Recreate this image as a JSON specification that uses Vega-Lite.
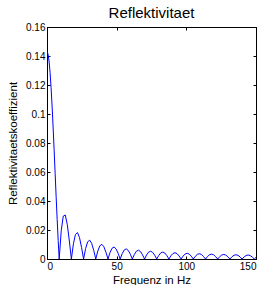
{
  "$schema": "https://vega.github.io/schema/vega-lite/v6.json",
  "autosize": {"type": "none"},
  "padding": {"left": 47, "top": 27, "right": 10, "bottom": 26},
  "width": 209,
  "height": 232,
  "background": "white",
  "config": {
    "view": {"stroke": "black", "strokeWidth": 1},
    "font": "Liberation Sans",
    "axis": {"grid": false, "domainColor": "black", "tickColor": "black", "labelColor": "black", "titleColor": "black", "labelFont": "Liberation Sans", "titleFont": "Liberation Sans", "labelFontSize": 10, "titleFontSize": 11.5, "titleFontWeight": "normal", "tickSize": -3, "labelPadding": 5}
  },
  "title": {"text": "Reflektivitaet", "fontSize": 15, "fontWeight": "normal", "font": "Liberation Sans", "color": "black", "offset": 1},
  "data": {"values": [
    {"f": 0, "r": 0.143}, {"f": 0.729, "r": 0.14137}, {"f": 1.458, "r": 0.13656}, {"f": 2.188, "r": 0.12875}, {"f": 2.917, "r": 0.11826}, {"f": 3.646, "r": 0.10552}, {"f": 4.375, "r": 0.09104}, {"f": 5.104, "r": 0.07537}, {"f": 5.833, "r": 0.05913}, {"f": 6.563, "r": 0.04292}, {"f": 7.292, "r": 0.02731}, {"f": 8.021, "r": 0.01285}, {"f": 8.75, "r": 0},
    {"f": 10.21, "r": 0.019507}, {"f": 11.67, "r": 0.029565}, {"f": 13.13, "r": 0.030345}, {"f": 14.58, "r": 0.023651}, {"f": 16.04, "r": 0.012414}, {"f": 17.5, "r": 0},
    {"f": 18.96, "r": 0.010504}, {"f": 20.42, "r": 0.016894}, {"f": 21.88, "r": 0.018207}, {"f": 23.33, "r": 0.014782}, {"f": 24.79, "r": 0.008033}, {"f": 26.25, "r": 0},
    {"f": 27.71, "r": 0.007187}, {"f": 29.17, "r": 0.011826}, {"f": 30.63, "r": 0.013005}, {"f": 32.08, "r": 0.010751}, {"f": 33.54, "r": 0.005937}, {"f": 35, "r": 0},
    {"f": 36.46, "r": 0.005462}, {"f": 37.92, "r": 0.009097}, {"f": 39.38, "r": 0.010115}, {"f": 40.83, "r": 0.008447}, {"f": 42.29, "r": 0.004709}, {"f": 43.75, "r": 0},
    {"f": 45.21, "r": 0.004405}, {"f": 46.67, "r": 0.007391}, {"f": 48.13, "r": 0.008276}, {"f": 49.58, "r": 0.006956}, {"f": 51.04, "r": 0.003902}, {"f": 52.5, "r": 0},
    {"f": 53.96, "r": 0.003691}, {"f": 55.42, "r": 0.006224}, {"f": 56.88, "r": 0.007003}, {"f": 58.33, "r": 0.005913}, {"f": 59.79, "r": 0.003331}, {"f": 61.25, "r": 0},
    {"f": 62.71, "r": 0.003176}, {"f": 64.17, "r": 0.005375}, {"f": 65.63, "r": 0.006069}, {"f": 67.08, "r": 0.005142}, {"f": 68.54, "r": 0.002905}, {"f": 70, "r": 0},
    {"f": 71.46, "r": 0.002787}, {"f": 72.92, "r": 0.00473}, {"f": 74.38, "r": 0.005355}, {"f": 75.83, "r": 0.004548}, {"f": 77.29, "r": 0.002577}, {"f": 78.75, "r": 0},
    {"f": 80.21, "r": 0.002483}, {"f": 81.67, "r": 0.004223}, {"f": 83.13, "r": 0.004791}, {"f": 84.58, "r": 0.004078}, {"f": 86.04, "r": 0.002315}, {"f": 87.5, "r": 0},
    {"f": 88.96, "r": 0.002239}, {"f": 90.42, "r": 0.003815}, {"f": 91.88, "r": 0.004335}, {"f": 93.33, "r": 0.003696}, {"f": 94.79, "r": 0.002101}, {"f": 96.25, "r": 0},
    {"f": 97.71, "r": 0.002038}, {"f": 99.17, "r": 0.003478}, {"f": 100.63, "r": 0.003958}, {"f": 102.08, "r": 0.003379}, {"f": 103.54, "r": 0.001923}, {"f": 105, "r": 0},
    {"f": 106.46, "r": 0.001871}, {"f": 107.92, "r": 0.003196}, {"f": 109.38, "r": 0.003641}, {"f": 110.83, "r": 0.003112}, {"f": 112.29, "r": 0.001773}, {"f": 113.75, "r": 0},
    {"f": 115.21, "r": 0.001729}, {"f": 116.67, "r": 0.002956}, {"f": 118.13, "r": 0.003372}, {"f": 119.58, "r": 0.002884}, {"f": 121.04, "r": 0.001645}, {"f": 122.5, "r": 0},
    {"f": 123.96, "r": 0.001607}, {"f": 125.42, "r": 0.00275}, {"f": 126.88, "r": 0.003139}, {"f": 128.33, "r": 0.002688}, {"f": 129.79, "r": 0.001534}, {"f": 131.25, "r": 0},
    {"f": 132.71, "r": 0.001501}, {"f": 134.17, "r": 0.002571}, {"f": 135.63, "r": 0.002937}, {"f": 137.08, "r": 0.002516}, {"f": 138.54, "r": 0.001437}, {"f": 140, "r": 0},
    {"f": 141.46, "r": 0.001408}, {"f": 142.92, "r": 0.002413}, {"f": 144.38, "r": 0.002759}, {"f": 145.83, "r": 0.002365}, {"f": 147.29, "r": 0.001352}, {"f": 148.75, "r": 0},
    {"f": 150, "r": 0.001152}
  ]},
  "layer": [
    {
      "mark": {"type": "line", "color": "#0000ff", "strokeWidth": 1, "clip": true},
      "encoding": {
        "x": {"field": "f", "type": "quantitative", "scale": {"domain": [0, 150], "nice": false}, "axis": {"orient": "bottom", "values": [0, 50, 100, 150], "title": "Frequenz in Hz", "titlePadding": 3}},
        "y": {"field": "r", "type": "quantitative", "scale": {"domain": [0, 0.16], "nice": false, "zero": false}, "axis": {"orient": "left", "values": [0, 0.02, 0.04, 0.06, 0.08, 0.1, 0.12, 0.14, 0.16], "format": "~g", "title": "Reflektivitaetskoeffizient", "titlePadding": 7}}
      }
    },
    {
      "mark": {"type": "line", "opacity": 0},
      "encoding": {
        "x": {"field": "f", "type": "quantitative", "axis": {"orient": "top", "values": [0, 50, 100, 150], "labels": false, "title": null}},
        "y": {"field": "r", "type": "quantitative", "axis": {"orient": "right", "values": [0, 0.02, 0.04, 0.06, 0.08, 0.1, 0.12, 0.14, 0.16], "labels": false, "title": null}}
      }
    }
  ],
  "resolve": {"axis": {"x": "independent", "y": "independent"}}
}
